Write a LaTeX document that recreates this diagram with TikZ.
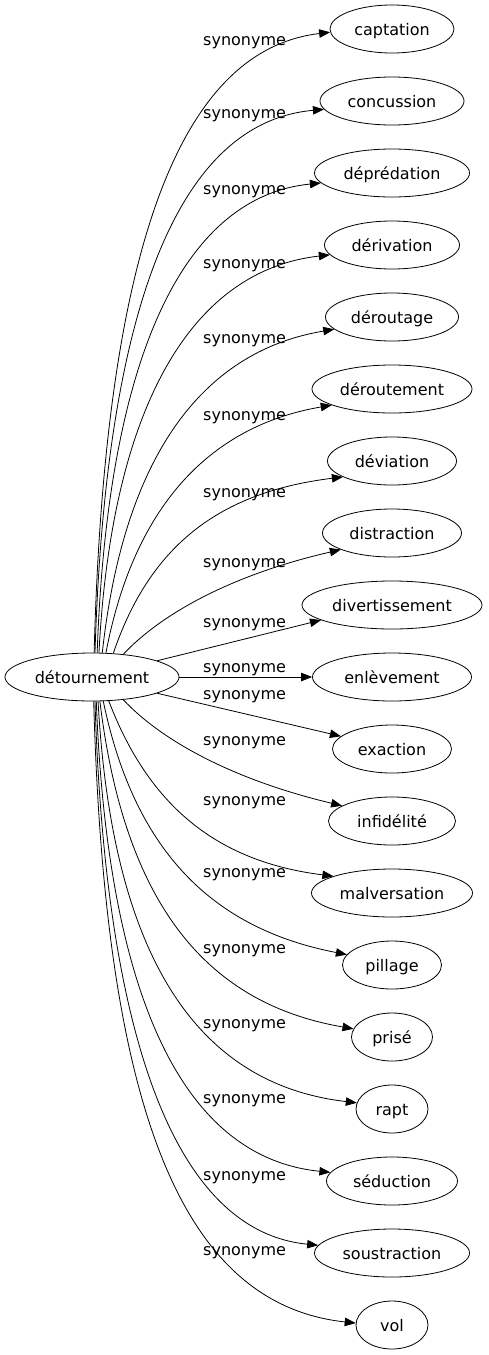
\documentclass[tikz,border=0pt]{standalone}
\usepackage{fontspec}
\setmainfont{DejaVu Sans}
\usetikzlibrary{shapes.geometric,arrows.meta}
\begin{document}
\begin{tikzpicture}[x=1pt,y=-1pt,
  every node/.style={font=\fontsize{16}{19}\selectfont},
  word/.style={draw,ellipse,minimum height=48pt,inner sep=0pt,text height=12pt,text depth=0pt,line width=0.8pt},
  syn/.style={anchor=base west,inner sep=0pt},
  >={Triangle[length=11pt,width=8.5pt]},
  link/.style={->,line width=0.8pt}]
\useasboundingbox (0,0) rectangle (488,1355);

\node[word,minimum width=174pt] (detour) at (92,677) {détournement};

\node[word,minimum width=124pt] (captation) at (392,29) {captation};
\node[word,minimum width=144pt] (concussion) at (392,101) {concussion};
\node[word,minimum width=155pt] (depredation) at (392,173) {déprédation};
\node[word,minimum width=135pt] (derivation) at (392,245) {dérivation};
\node[word,minimum width=133pt] (deroutage) at (392,317) {déroutage};
\node[word,minimum width=160pt] (deroutement) at (392,389) {déroutement};
\node[word,minimum width=129pt] (deviation) at (392,461) {déviation};
\node[word,minimum width=139pt] (distraction) at (392,533) {distraction};
\node[word,minimum width=180pt] (divertissement) at (392,605) {divertissement};
\node[word,minimum width=159pt] (enlevement) at (392,677) {enlèvement};
\node[word,minimum width=119pt] (exaction) at (392,749) {exaction};
\node[word,minimum width=127pt] (infidelite) at (392,821) {infidélité};
\node[word,minimum width=161pt] (malversation) at (392,893) {malversation};
\node[word,minimum width=99pt] (pillage) at (392,965) {pillage};
\node[word,minimum width=81pt] (prise) at (392,1037) {prisé};
\node[word,minimum width=72pt] (rapt) at (392,1109) {rapt};
\node[word,minimum width=131pt] (seduction) at (392,1181) {séduction};
\node[word,minimum width=155pt] (soustraction) at (392,1253) {soustraction};
\node[word,minimum width=72pt] (vol) at (392,1325) {vol};

% synonyme labels
\node[syn] (syn1) at (203,45) {synonyme};
\node[syn] (syn2) at (203,118) {synonyme};
\node[syn] (syn3) at (203,194) {synonyme};
\node[syn] (syn4) at (203,268) {synonyme};
\node[syn] (syn5) at (203,343) {synonyme};
\node[syn] (syn6) at (203,420) {synonyme};
\node[syn] (syn7) at (203,497) {synonyme};
\node[syn] (syn8) at (203,567) {synonyme};
\node[syn] (syn9) at (203,627) {synonyme};
\node[syn] (syn10) at (203,672) {synonyme};
\node[syn] (syn11) at (203,699) {synonyme};
\node[syn] (syn12) at (203,745) {synonyme};
\node[syn] (syn13) at (203,805) {synonyme};
\node[syn] (syn14) at (203,877) {synonyme};
\node[syn] (syn15) at (203,953) {synonyme};
\node[syn] (syn16) at (203,1028) {synonyme};
\node[syn] (syn17) at (203,1103) {synonyme};
\node[syn] (syn18) at (203,1180) {synonyme};
\node[syn] (syn19) at (203,1255) {synonyme};

% edges going up
\draw[link] (detour.85) .. controls (105,247) and (180,50) .. (captation.183);
\draw[link] (detour.83) .. controls (106,297) and (182,122) .. (concussion.187);
\draw[link] (detour.78) .. controls (108,346) and (188,196) .. (depredation.188);
\draw[link] (detour.74) .. controls (112,400) and (195,270) .. (derivation.189);
\draw[link] (detour.67) .. controls (125,445) and (210,350) .. (deroutage.192);
\draw[link] (detour.60) .. controls (135,500) and (215,425) .. (deroutement.195);
\draw[link] (detour.48) .. controls (150,545) and (220,492) .. (deviation.198);
\draw[link] (detour.36) .. controls (160,615) and (230,575) .. (distraction.198);
\draw[link] (detour.14) -- (divertissement.192);
\draw[link] (detour) -- (enlevement);
% edges going down
\draw[link] (detour.-14) -- (exaction.166);
\draw[link] (detour.-36) .. controls (160,739) and (230,779) .. (infidelite.163);
\draw[link] (detour.-55) .. controls (150,809) and (220,862) .. (malversation.164);
\draw[link] (detour.-65) .. controls (135,854) and (215,929) .. (pillage.167);
\draw[link] (detour.-72) .. controls (125,909) and (210,1004) .. (prise.168);
\draw[link] (detour.-76) .. controls (112,954) and (195,1084) .. (rapt.170);
\draw[link] (detour.-80) .. controls (108,1008) and (188,1158) .. (seduction.172);
\draw[link] (detour.-83) .. controls (106,1057) and (182,1232) .. (soustraction.174);
\draw[link] (detour.-86) .. controls (105,1107) and (180,1304) .. (vol.177);

\end{tikzpicture}
\end{document}
